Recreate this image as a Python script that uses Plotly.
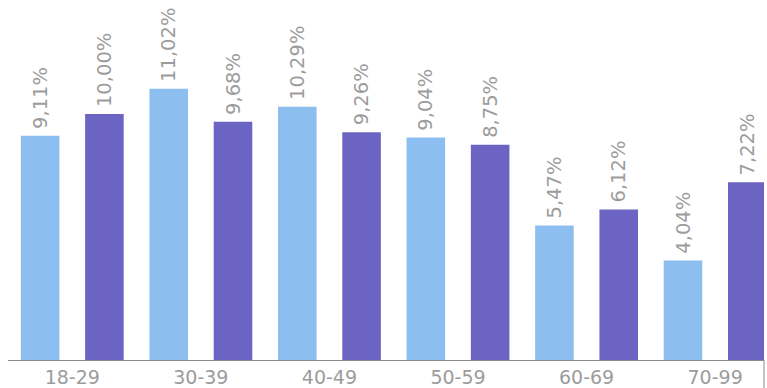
import plotly.graph_objects as go

categories = ["18-29", "30-39", "40-49", "50-59", "60-69", "70-99"]
series_a = [9.11, 11.02, 10.29, 9.04, 5.47, 4.04]
series_b = [10.00, 9.68, 9.26, 8.75, 6.12, 7.22]

def fmt(v):
    return "\u2009" + f"{v:.2f}".replace(".", ",") + "%"

font_family = "DejaVu Sans"
label_color = "#9c9c9c"

fig = go.Figure()
fig.add_trace(go.Bar(
    x=categories, y=series_a, name="A",
    marker=dict(color="#8DBEF0", line=dict(width=0)),
    text=[fmt(v) for v in series_a], textposition="outside", textangle=-90,
    textfont=dict(family=font_family, size=19.5, color=label_color),
    cliponaxis=False, constraintext="none",
))
fig.add_trace(go.Bar(
    x=categories, y=series_b, name="B",
    marker=dict(color="#6C64C3", line=dict(width=0)),
    text=[fmt(v) for v in series_b], textposition="outside", textangle=-90,
    textfont=dict(family=font_family, size=19.5, color=label_color),
    cliponaxis=False, constraintext="none",
))

fig.update_layout(
    width=767, height=388,
    margin=dict(l=8, r=3, t=0, b=28),
    barmode="group", bargap=0.0, bargroupgap=0.4,
    showlegend=False,
    plot_bgcolor="white", paper_bgcolor="white",
    xaxis=dict(
        range=[-0.5, 5.38], showgrid=False, zeroline=False, automargin=False,
        showline=True, linecolor="#8a8a8a", linewidth=1,
        ticks="", tickfont=dict(family=font_family, size=19, color=label_color),
    ),
    yaxis=dict(range=[0, 14.63], visible=False, showgrid=False, zeroline=False,
               automargin=False),
    shapes=[dict(type="line", xref="paper", yref="paper", x0=1, x1=1,
                 y0=0, y1=-28/360, line=dict(color="#8a8a8a", width=1))],
)

fig.write_html("out.html", config={"displayModeBar": False},
               post_script="document.body.style.margin='0';document.body.style.overflow='hidden';")
